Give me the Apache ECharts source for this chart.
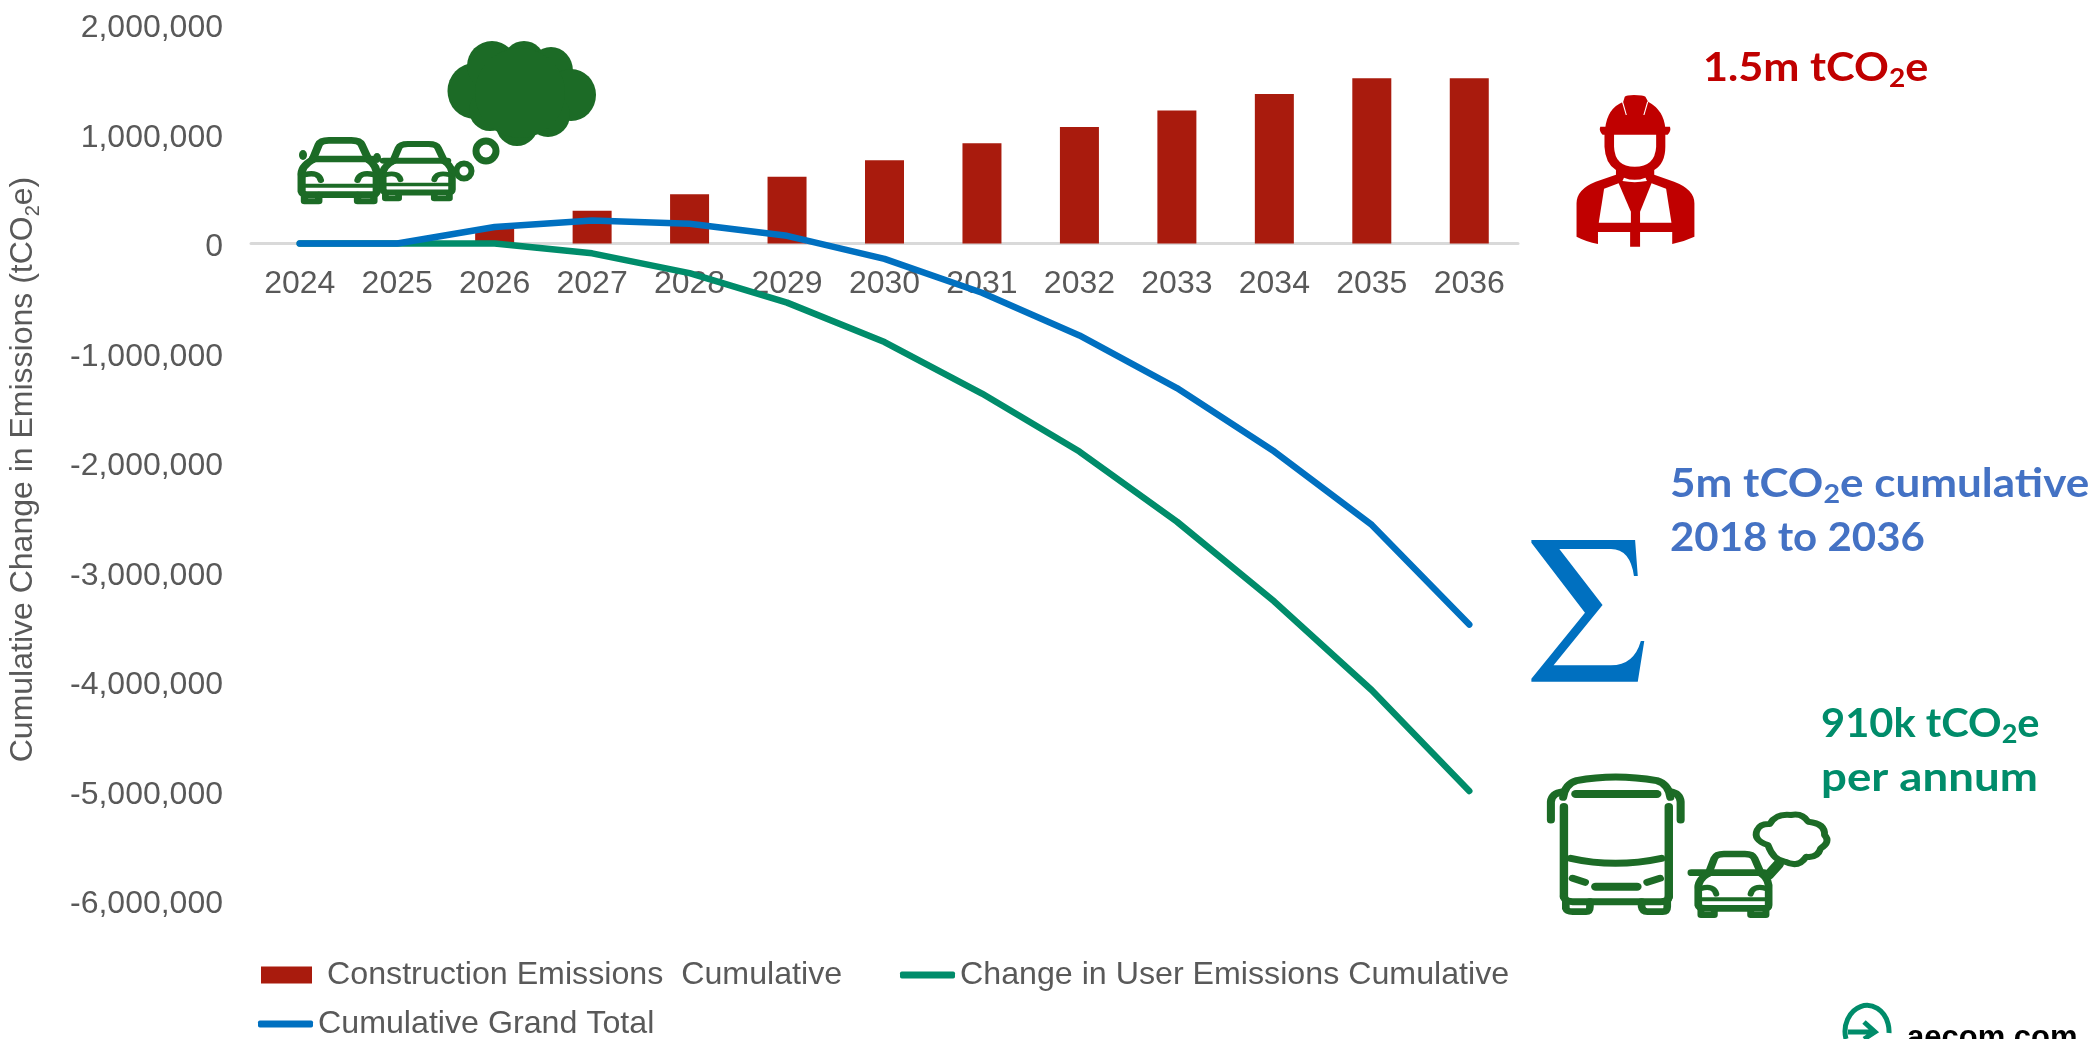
<!DOCTYPE html>
<html>
<head>
<meta charset="utf-8">
<title>Cumulative change in emissions</title>
<style>html,body{margin:0;padding:0;background:#fff}#chart{width:2100px;height:1039px}</style>
<script src="https://cdn.jsdelivr.net/npm/echarts@6/dist/echarts.min.js"></script>
</head>
<body>
<div id="chart"></div>
<script>
// Chart data
const years = ['2024','2025','2026','2027','2028','2029','2030','2031','2032','2033','2034','2035','2036'];
const constructionCumulative = [0, 0, 150000, 300000, 450000, 610000, 760000, 915000, 1065000, 1215000, 1365000, 1510000, 1510000];
const userCumulative = [0, 0, 0, -90000, -270000, -540000, -900000, -1370000, -1900000, -2540000, -3270000, -4080000, -5000000];
const grandTotal = [0, 0, 150000, 210000, 180000, 70000, -140000, -450000, -840000, -1320000, -1900000, -2570000, -3480000];

const SANS = '"Liberation Sans", Arial, sans-serif';
const GREY = '#595959';
const RED = '#A91B0D', GREEN = '#008C6A', BLUE = '#0070C0';
const ICON_GREEN = '#1C6B26', ICON_RED = '#C00000';

const stroke = (d, lw) => ({type:'path', shape:{pathData:d}, style:{fill:'none', stroke:ICON_GREEN, lineWidth:lw, lineCap:'round', lineJoin:'round'}});
const fill = (d, c) => ({type:'path', shape:{pathData:d}, style:{fill:c, stroke:'none'}});
const ellipse = (cx, cy, rx, ry) => `M${cx-rx},${cy}A${rx},${ry} 0 1 1 ${cx+rx},${cy}A${rx},${ry} 0 1 1 ${cx-rx},${cy}Z`;

// Front view of a car, outlined; beltStart sets how far the waist line runs out to the left
function carParts(lw, beltStart) {
  return [
    stroke('M545,1300L560,1255Q565,1242 585,1242L640,1242Q660,1242 665,1255L682,1300', lw),
    stroke(`M${beltStart},1298L690,1298`, lw),
    stroke('M545,1300Q515,1320 518,1350L518,1395Q520,1405 535,1405L690,1405Q702,1405 702,1395L702,1350Q705,1320 682,1300', lw),
    stroke('M525,1345Q560,1335 565,1362M695,1345Q660,1335 655,1362', lw * 0.8),
    stroke('M525,1378L695,1378', lw * 0.6),
    stroke('M525,1405L525,1425L560,1425L560,1405M655,1405L655,1425L695,1425L695,1405', lw * 0.9)
  ];
}

// Place a car so its 492..710 x 1235..1430 outline lands on the given box
function carAt(x, y, w, h, lw, beltStart) {
  const sx = w / 218, sy = h / 195;
  return {type:'group', x: x - 492 * sx, y: y - 1235 * sy, scaleX: sx, scaleY: sy, children: carParts(lw, beltStart)};
}

const bigCloud = [
  [474.5,91,27,28],[492,66,25,25],[524,62,21,21],[551,71,22,24],[571,95,25,26],
  [548,115,22,22],[517,125,21,21],[490,110,21,21],[520,93,45,45]
].map(c => fill(ellipse(c[0],c[1],c[2],c[3]), ICON_GREEN));

const iconTree = [
  // Exhaust cloud with two rings above the cars
  ...bigCloud,
  {type:'path', shape:{pathData:ellipse(486,151,10,10)}, style:{fill:'none', stroke:ICON_GREEN, lineWidth:7}},
  {type:'path', shape:{pathData:ellipse(464,171,7.5,7.5)}, style:{fill:'none', stroke:ICON_GREEN, lineWidth:6}},
  carAt(291,138,89,65,20,545),
  carAt(373,142,82,58,20,520),
  fill(ellipse(303,155,4,5), ICON_GREEN),
  fill(ellipse(377,158,4,5), ICON_GREEN),

  // Site worker
  {type:'group', x:1500, y:0, scaleX:1/2.613, scaleY:1/3, children:[
    fill('M275,385Q280,325 322,305L326,290Q330,285 350,285Q375,285 380,290L387,305Q428,330 432,385L432,440Q432,490 403,510L403,524L455,545Q508,568 508,610L508,710Q480,725 450,732L450,696L366,696L366,740L340,740L340,696L256,696L256,732Q225,725 200,710L200,610Q200,568 250,545L303,524L303,510Q275,490 273,440L273,385Z', ICON_RED),
    fill('M262,380L444,380Q448,392 438,404L268,404Q258,392 262,380Z', ICON_RED),
    fill('M298,404L408,404L408,440Q405,500 352,500Q300,500 298,440Z', '#fff'),
    fill('M272,566L310,550L342,635L342,668L258,668Z', '#fff'),
    fill('M396,550L434,566L448,668L366,668L366,635Z', '#fff'),
    fill('M324,533Q352,546 380,533L384,543Q352,550 320,543Z', '#fff'),
    {type:'path', shape:{pathData:'M320,305L330,345M386,305L376,345'}, style:{fill:'none', stroke:'#fff', lineWidth:3}}
  ]},

  // Summation sign
  {type:'group', x:1500, y:440, scaleX:1/2.613, scaleY:1/3, children:[
    fill('M82,300L353,300L360,408L350,408Q340,327 290,327L155,327L268,495L140,676L290,676Q350,676 368,603L377,603L360,725L82,725L82,716L222,518L82,308Z', BLUE),

    // Bus
    stroke('M165,1072Q170,1032 200,1022Q300,1000 410,1022Q440,1032 445,1072', 21),
    stroke('M133,1140L133,1085Q135,1060 165,1055M472,1140L472,1085Q470,1060 445,1055', 21),
    stroke('M198,1062L410,1062', 24),
    stroke('M167,1100L167,1370M441,1100L441,1370', 22),
    stroke('M167,1370Q170,1385 190,1385L420,1385Q440,1385 441,1370', 21),
    stroke('M185,1255Q300,1285 422,1255', 21),
    stroke('M190,1315L222,1327M418,1315L385,1327', 21),
    stroke('M250,1340L358,1340', 24),
    stroke('M172,1385L172,1405Q175,1415 190,1415L225,1415Q235,1415 235,1400L235,1385M370,1385L370,1400Q372,1415 385,1415L425,1415Q437,1415 437,1400L437,1385', 20),

    // Car and its outlined exhaust cloud
    ...carParts(20, 500),
    stroke('M700,1215Q660,1200 672,1170Q680,1150 705,1152Q720,1120 760,1125Q790,1118 805,1145Q850,1150 848,1185Q865,1205 838,1225Q830,1255 800,1250Q780,1285 745,1265Q715,1262 700,1215Z', 18),
    stroke('M702,1305L728,1272', 28)
  ]},

  // Logo mark
  {type:'path', shape:{pathData:'M1846,1039A22,26 0 1 1 1889,1033M1848,1032L1874,1032M1864,1022L1875,1032L1864,1039'}, style:{fill:'none', stroke:GREEN, lineWidth:5}}
];

// Callout text: main runs sit at the top of the line, the subscript drops below their baseline
const calloutText = (text, x, y, color, sx) => ({
  type:'text', x, y, scaleX:sx, silent:true,
  style:{
    text, fill:color, font:'bold 40px Lato, sans-serif', verticalAlign:'top',
    rich:{
      m:{fontFamily:'Lato, sans-serif', fontWeight:'bold', fontSize:40, fill:color, verticalAlign:'top', lineHeight:40},
      sub:{fontFamily:'Lato, sans-serif', fontWeight:'bold', fontSize:26, fill:color, lineHeight:26, padding:[21,0,0,0]}
    }
  }
});

const legendBase = {
  orient:'horizontal', selectedMode:false, padding:0,
  textStyle:{fontFamily:SANS, fontSize:32.2, color:GREY}
};

// Height of the plot area, used to lift the category axis to the zero line
const plotHeight = 876;
const zeroLift = plotHeight * 6 / 8;

const chart = echarts.init(document.getElementById('chart'));
chart.setOption({
  animation:false,
  backgroundColor:'#fff',
  grid:{left:251, right:582, top:24.5, bottom:138.5, containLabel:false, outerBoundsMode:'none'},
  legend:[
    {...legendBase, left:261, top:959, itemWidth:51, itemHeight:17, icon:'rect', data:['Construction Emissions  Cumulative'], textStyle:{...legendBase.textStyle, padding:[0,0,0,10]}},
    {...legendBase, left:900, top:959, itemWidth:55, itemHeight:7, icon:'roundRect', data:['Change in User Emissions Cumulative']},
    {...legendBase, left:258, top:1008, itemWidth:55, itemHeight:7, icon:'roundRect', data:['Cumulative Grand Total']}
  ],
  xAxis:{
    type:'category', data:years, offset:-zeroLift,
    axisTick:{show:false},
    axisLine:{onZero:false, lineStyle:{color:'#D9D9D9', width:3}},
    axisLabel:{fontFamily:SANS, fontSize:32, color:GREY, margin:25}
  },
  yAxis:{
    type:'value', min:-6000000, max:2000000, interval:1000000,
    splitLine:{show:false}, axisLine:{show:false}, axisTick:{show:false},
    axisLabel:{
      margin:28,
      formatter:v => `{v|${v.toLocaleString('en-US')}}`,
      rich:{v:{fontFamily:SANS, fontSize:32, color:GREY, padding:[8,0,0,0]}}
    },
    name:'Cumulative Change in Emissions (tCO{sub|2}e)',
    nameLocation:'middle', nameRotate:90, nameGap:208,
    nameTextStyle:{fontFamily:SANS, fontSize:32, color:GREY, padding:[0,14,0,0],
      rich:{sub:{fontFamily:SANS, fontSize:20, color:GREY, verticalAlign:'bottom', padding:[20,0,0,0]}}}
  },
  series:[
    {name:'Construction Emissions  Cumulative', type:'bar', data:constructionCumulative, barWidth:39, itemStyle:{color:RED}},
    {name:'Change in User Emissions Cumulative', type:'line', data:userCumulative, showSymbol:false, symbol:'none', itemStyle:{color:GREEN}, lineStyle:{color:GREEN, width:6.5, cap:'round'}},
    {name:'Cumulative Grand Total', type:'line', data:grandTotal, showSymbol:false, symbol:'none', itemStyle:{color:BLUE}, lineStyle:{color:BLUE, width:6.5, cap:'round'}},
    {name:'icons', type:'custom', coordinateSystem:'none', data:[0], silent:true, clip:false, z:5,
      renderItem:() => ({type:'group', children:iconTree})}
  ],
  graphic:[
    calloutText('{m|1.5m tCO}{sub|2}{m|e}', 1703, 48, ICON_RED, 1.08),
    calloutText('{m|5m tCO}{sub|2}{m|e cumulative}', 1670, 464, '#4472C4', 1.1),
    calloutText('{m|2018 to 2036}', 1670, 518, '#4472C4', 1.05),
    calloutText('{m|910k tCO}{sub|2}{m|e}', 1821, 704, GREEN, 1.04),
    calloutText('{m|per annum}', 1821, 758, GREEN, 1.14),
    {type:'text', x:1907, y:1023, silent:true, style:{text:'aecom.com', fill:'#000', font:'bold 31px "Liberation Sans", Arial, sans-serif'}}
  ]
});
</script>
</body>
</html>
